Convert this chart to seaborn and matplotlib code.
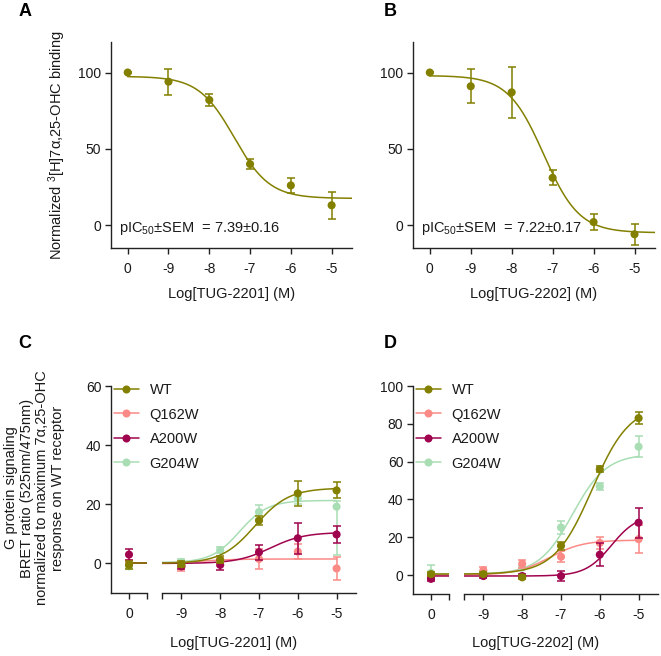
import numpy as np
import pandas as pd
import matplotlib
matplotlib.use("Agg")
import matplotlib.pyplot as plt
from matplotlib.lines import Line2D
import seaborn as sns

sns.set_theme(style="ticks")
plt.rcParams['font.family'] = ['Liberation Sans', 'DejaVu Sans']
plt.rcParams['mathtext.fontset'] = 'custom'
plt.rcParams['mathtext.rm'] = 'Liberation Sans'
plt.rcParams['mathtext.it'] = 'Liberation Sans:italic'
plt.rcParams['mathtext.bf'] = 'Liberation Sans:bold'

# ---------------- data ----------------
tick_labels = ["0", "-9", "-8", "-7", "-6", "-5"]
log_conc = [-9, -8, -7, -6, -5]

# Panel A: binding, TUG-2201 (first value = vehicle "0")
a_mean = [100, 94, 82, 40, 26, 13]
a_sem = [0.6, 8.5, 4, 3, 5, 9]
a_fit = [17.5, 97.5, -7.39, 1.0]      # bottom, top, logIC50, hill
# Panel B: binding, TUG-2202
b_mean = [100, 91, 87, 31, 2, -6]
b_sem = [0.6, 11, 16.5, 5, 5.5, 7]
b_fit = [-5.0, 98.0, -7.22, 1.0]

series_names = ["WT", "Q162W", "A200W", "G204W"]
series_colors = ["#838000", "#fb8a86", "#a1044e", "#a9deb4"]

# Panel C: G protein signalling, TUG-2201 (first value = vehicle "0")
c_wt = [-0.5, -0.3, 1.2, 14.5, 23.7, 24.7]
c_wt_sem = [1.3, 1.0, 1.2, 1.5, 4.3, 2.7]
c_q162w = [0.2, -1.0, 0.5, 1.5, 4.0, -1.7]
c_q162w_sem = [1.0, 1.5, 1.5, 3.5, 2.5, 4.0]
c_a200w = [3.0, -1.0, -0.5, 3.8, 8.5, 9.8]
c_a200w_sem = [2.0, 1.0, 1.8, 2.5, 5.3, 3.0]
c_g204w = [-1.0, 0.5, 4.5, 17.4, 22.0, 19.2]
c_g204w_sem_low = [1.0, 1.0, 1.0, 2.5, 2.0, 16.5]
c_g204w_sem_high = [1.0, 1.0, 1.0, 2.5, 2.0, 2.0]
c_fits = [[0.0, 25.5, -7.1, 1.0],
          [0.0, 1.5, -8.5, 1.0],
          [0.0, 10.5, -6.7, 1.0],
          [0.3, 21.3, -7.5, 1.2]]

# Panel D: G protein signalling, TUG-2202
d_wt = [0.5, 0.5, -1.2, 15.5, 56.0, 83.0]
d_wt_sem = [1.0, 1.0, 1.0, 2.0, 1.5, 3.0]
d_q162w = [0.0, 2.5, 6.0, 9.7, 17.0, 19.0]
d_q162w_sem = [1.0, 2.0, 2.0, 3.0, 3.0, 7.5]
d_a200w = [-2.0, -0.5, -0.5, -0.5, 10.8, 27.7]
d_a200w_sem = [1.0, 1.0, 1.0, 2.5, 6.0, 8.0]
d_g204w = [1.2, 1.0, 4.0, 25.2, 46.9, 67.9]
d_g204w_sem = [4.0, 1.0, 1.0, 3.5, 2.0, 5.5]
d_fits = [[0.5, 90.0, -6.2, 0.9],
          [0.0, 18.5, -7.3, 1.0],
          [-0.5, 32.0, -5.7, 1.3],
          [0.5, 64.0, -6.7, 1.0]]

# ---------------- helpers ----------------
def logistic(x, p):
    bottom, top, logec, hill = p
    return bottom + (top - bottom) / (1 + 10 ** ((logec - x) * hill))

def inhib(x, p):
    bottom, top, logic, hill = p
    return bottom + (top - bottom) / (1 + 10 ** ((x - logic) * hill))

W, H = 661, 656
fig = plt.figure(figsize=(W / 100, H / 100), dpi=100)

def ax_px(l, t, r, b):
    return fig.add_axes([l / W, 1 - b / H, (r - l) / W, (b - t) / H])

FS = 10
LFS = 10.5
TXT = '#1a1a1a'
olive = series_colors[0]

def style(ax):
    ax.tick_params(direction='out', length=4, width=1, labelsize=FS, pad=3,
                   colors='#222222', labelcolor=TXT)
    ax.tick_params(axis='x', pad=6)
    for s in ax.spines.values():
        s.set_linewidth(1.0)
        s.set_color('#222222')
    ax.set_facecolor('none')

def points(ax, xs, ys, err, color, zorder=3):
    ax.errorbar(xs, ys, yerr=err, fmt='none', ecolor=color, elinewidth=1.1,
                capsize=2.8, capthick=1.1, zorder=zorder)
    sns.scatterplot(x=xs, y=ys, color=color, s=34, edgecolor='none', ax=ax,
                    zorder=zorder + 0.5, legend=False)

# ---------------- panels A, B ----------------
pos = np.arange(len(tick_labels))
for (l, r), mean, sem, fit, drug, txt, letter, letter_x in [
        ((111, 352), a_mean, a_sem, a_fit, "TUG-2201", "7.39\u00b10.16", "A", 25),
        ((413, 655), b_mean, b_sem, b_fit, "TUG-2202", "7.22\u00b10.17", "B", 390)]:
    ax = ax_px(l, 42, r, 248)
    style(ax)
    xc = np.linspace(0, 5.5, 300)
    # position 0 stands for the vehicle (plotted at log -10)
    sns.lineplot(x=xc, y=inhib(xc - 10, fit), color=olive, lw=1.1, ax=ax, zorder=2)
    points(ax, pos, mean, sem, olive)
    ax.set_xlim(-0.41, 5.5)
    ax.set_ylim(-15, 120)
    ax.set_xticks(pos)
    ax.set_xticklabels(tick_labels)
    ax.set_yticks([0, 50, 100])
    sns.despine(ax=ax)
    ax.set_xlabel(f"Log[{drug}] (M)", fontsize=LFS, labelpad=8, color=TXT)
    ax.text(-0.22, -2, r"pIC$_{\mathregular{50}}$" + "\u00b1SEM  = " + txt,
            fontsize=LFS, ha='left', va='center', color=TXT)
    fig.text(letter_x / W, 1 - 12 / H, letter,
             fontsize=13, fontweight='bold', ha='center', va='center', color='black')

fig.text(57 / W, 1 - 145 / H, "Normalized $^{\\mathregular{3}}$[H]7\u03b1,25-OHC binding",
         rotation=90, fontsize=LFS, ha='center', va='center', color=TXT)

# ---------------- panels C, D ----------------
def signalling(lx, rx_l, rx_r, ylim, yticks, data, fits, drug, letter, letter_x, bottom_px):
    axl = ax_px(lx, 386, lx + 36, bottom_px)
    axr = ax_px(rx_l, 386, rx_r, bottom_px)
    for ax in (axl, axr):
        style(ax)
        ax.set_ylim(*ylim)
    order = [3, 1, 2, 0]
    for k, i in enumerate(order):
        mean, err = data[i]
        err = np.asarray(err, dtype=float)
        col = series_colors[i]
        z = 3 + k
        xl = np.linspace(0, 0.465, 20)
        sns.lineplot(x=xl, y=logistic(np.full_like(xl, -12.0), fits[i]), color=col,
                     lw=1.1, ax=axl, zorder=z - 1)
        xr = np.linspace(-9.5, -5, 300)
        sns.lineplot(x=xr, y=logistic(xr, fits[i]), color=col, lw=1.1, ax=axr, zorder=z - 1)
        if err.ndim == 2:
            e0, er = err[:, :1], err[:, 1:]
        else:
            e0, er = err[:1], err[1:]
        points(axl, [0], [mean[0]], e0, col, z)
        points(axr, log_conc, mean[1:], er, col, z)
    axl.set_xlim(-0.465, 0.465)
    axl.set_xticks([0, 0.465])
    axl.set_xticklabels(["0", ""])
    axl.set_yticks(yticks)
    sns.despine(ax=axl)
    axr.set_xlim(-9.5, -4.5)
    axr.set_xticks([-9.5] + log_conc)
    axr.set_xticklabels([""] + tick_labels[1:])
    axr.set_yticks([])
    sns.despine(ax=axr, left=True)
    fig.text((lx + rx_r) / 2 / W, 1 - 643 / H, f"Log[{drug}] (M)", fontsize=LFS,
             ha='center', va='center', color=TXT)
    handles = [Line2D([0], [0], color=series_colors[i], lw=1.1, marker='o', markersize=5.8,
                      markeredgewidth=0) for i in range(4)]
    leg = fig.legend(handles, series_names, loc='upper left',
                     bbox_to_anchor=((lx + 3) / W, 1 - 383 / H), frameon=False, fontsize=LFS,
                     handlelength=1.7, handletextpad=0.75, labelspacing=0.72, borderpad=0,
                     borderaxespad=0)
    for t in leg.get_texts():
        t.set_color(TXT)
    fig.text(letter_x / W, 1 - 344 / H, letter, fontsize=13, fontweight='bold',
             ha='center', va='center', color='black')

c_data = [(c_wt, c_wt_sem), (c_q162w, c_q162w_sem), (c_a200w, c_a200w_sem),
          (c_g204w, [c_g204w_sem_low, c_g204w_sem_high])]
d_data = [(d_wt, d_wt_sem), (d_q162w, d_q162w_sem), (d_a200w, d_a200w_sem),
          (d_g204w, d_g204w_sem)]

signalling(111, 162, 356, (-10, 60), [0, 20, 40, 60], c_data, c_fits,
           "TUG-2201", "C", 25, 593)
signalling(413, 464, 658, (-10, 100), [0, 20, 40, 60, 80, 100], d_data, d_fits,
           "TUG-2202", "D", 390, 594)

fig.text(34.5 / W, 1 - 488 / H,
         "G protein signaling\nBRET ratio (525nm/475nm)\nnormalized to maximum 7\u03b1,25-OHC\nresponse on WT receptor",
         rotation=90, fontsize=LFS, ha='center', va='center', multialignment='center',
         linespacing=1.15, color=TXT)

fig.savefig("out.png", dpi=100)
